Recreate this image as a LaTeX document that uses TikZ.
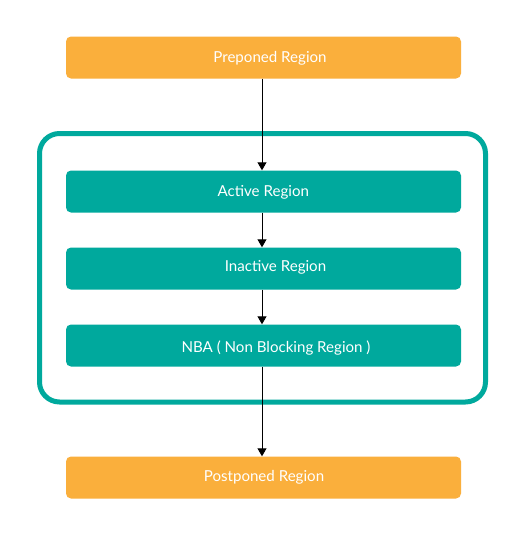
\documentclass[tikz,border=0pt]{standalone}
\usepackage{fontspec}
\setmainfont{Lato}
\usetikzlibrary{arrows.meta}
\definecolor{orng}{HTML}{FAAF3C}
\definecolor{teal}{HTML}{00A99D}
\begin{document}
\begin{tikzpicture}[x=1pt,y=-1pt,
  region/.style={rounded corners=5pt, minimum width=395pt, minimum height=42pt, inner sep=0pt, anchor=center},
  orangebox/.style={region, fill=orng},
  tealbox/.style={region, fill=teal},
  lbl/.style={text=white, inner sep=0pt, font=\fontsize{15.1}{18}\selectfont, text height=10.8pt, text depth=0pt, anchor=center},
  conn/.style={line width=0.9pt, -{Triangle[width=9pt,length=8pt]}}]
\useasboundingbox[fill=white] (0,0) rectangle (525,536);
\draw[teal, line width=5pt, rounded corners=20pt] (39.5,133.5) rectangle (485.5,402);
\node[orangebox] (pre) at (263.5,57.5) {};
\node[tealbox] (act) at (263.5,191.5) {};
\node[tealbox] (ina) at (263.5,268.5) {};
\node[tealbox] (nba) at (263.5,345.5) {};
\node[orangebox] (post) at (263.5,477.5) {};
\node[lbl] (preT) at (270,57.5) {Preponed Region};
\node[lbl] (actT) at (263.3,191.2) {Active Region};
\node[lbl] (inaT) at (275.5,266.2) {Inactive Region};
\node[lbl] (nbaT) at (276,347.2) {NBA ( Non Blocking Region )};
\node[lbl] (postT) at (264,476.2) {Postponed Region};
\draw[conn] (pre.south -| 262,0) -- (act.north -| 262,0);
\draw[conn] (act.south -| 262,0) -- (ina.north -| 262,0);
\draw[conn] (ina.south -| 262,0) -- (nba.north -| 262,0);
\draw[conn] (nba.south -| 262,0) -- (post.north -| 262,0);
\end{tikzpicture}
\end{document}
